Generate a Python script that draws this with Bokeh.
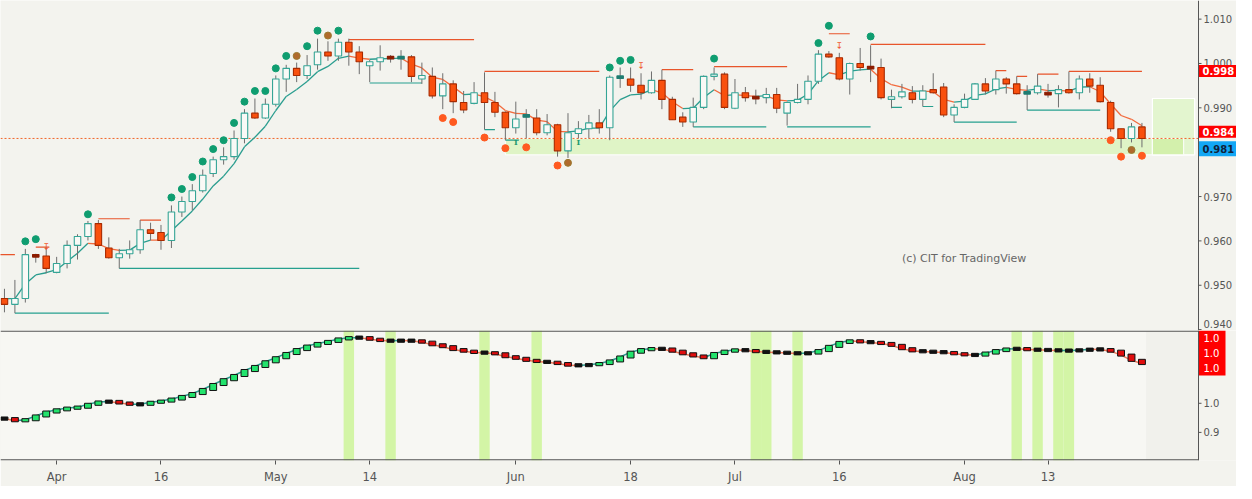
from bokeh.plotting import figure
from bokeh.layouts import column
from bokeh.models import Range1d, FixedTicker, Span, BoxAnnotation
from bokeh.embed import file_html
from bokeh.resources import INLINE
from bokeh.core.properties import value

# ---------------- data (USD/CHF daily, 26 Mar - 24 Aug 2018) ----------------
opens = [0.9470,0.9457,0.9470,0.9569,0.9566,0.9529,0.9549,0.9590,0.9610,0.9639,
         0.9584,0.9562,0.9571,0.9580,0.9625,0.9619,0.9601,0.9665,0.9689,0.9713,
         0.9752,0.9783,0.9790,0.9831,0.9888,0.9877,0.9908,0.9965,0.9989,0.9973,
         0.9997,1.0026,1.0017,1.0048,1.0026,0.9995,1.0004,1.0014,1.0012,1.0015,
         0.9965,0.9971,0.9927,0.9954,0.9912,0.9910,0.9934,0.9912,0.9890,0.9855,
         0.9880,0.9877,0.9844,0.9862,0.9803,0.9842,0.9853,0.9866,0.9855,0.9968,
         0.9965,0.9951,0.9934,0.9962,0.9919,0.9879,0.9868,0.9901,0.9971,0.9976,
         0.9899,0.9934,0.9924,0.9923,0.9930,0.9888,0.9912,0.9919,0.9960,1.0021,
         1.0013,0.9965,1.0000,0.9991,0.9991,0.9919,0.9925,0.9934,0.9919,0.9941,
         0.9947,0.9884,0.9901,0.9919,0.9954,0.9941,0.9965,0.9954,0.9933,0.9934,
         0.9933,0.9932,0.9941,0.9934,0.9965,0.9951,0.9912,0.9853,0.9831,0.9857]
highs = [0.9492,0.9512,0.9582,0.9571,0.9586,0.9564,0.9601,0.9615,0.9645,0.9647,
         0.9608,0.9582,0.9601,0.9647,0.9641,0.9636,0.9680,0.9700,0.9728,0.9761,
         0.9790,0.9811,0.9849,0.9897,0.9921,0.9921,0.9973,0.9997,1.0002,1.0019,
         1.0056,1.0050,1.0056,1.0056,1.0039,1.0008,1.0041,1.0019,1.0030,1.0019,
         1.0002,0.9991,0.9978,0.9962,0.9938,0.9958,0.9980,0.9936,0.9892,0.9914,
         0.9897,0.9897,0.9886,0.9864,0.9888,0.9870,0.9884,0.9897,0.9973,0.9991,
         0.9991,0.9978,0.9982,0.9986,0.9925,0.9890,0.9923,0.9973,0.9991,0.9980,
         0.9965,0.9947,0.9941,0.9945,0.9945,0.9914,0.9954,0.9973,1.0030,1.0028,
         1.0024,1.0002,1.0035,1.0041,1.0011,0.9941,0.9954,0.9949,0.9951,0.9978,
         0.9956,0.9908,0.9932,0.9956,0.9967,0.9984,0.9969,0.9971,0.9951,0.9976,
         0.9954,0.9951,0.9982,0.9973,0.9978,0.9969,0.9916,0.9853,0.9866,0.9866]
lows = [0.9439,0.9437,0.9461,0.9551,0.9527,0.9527,0.9538,0.9558,0.9601,0.9582,
        0.9560,0.9538,0.9560,0.9571,0.9601,0.9580,0.9584,0.9654,0.9669,0.9709,
        0.9744,0.9772,0.9783,0.9820,0.9875,0.9875,0.9903,0.9936,0.9958,0.9965,
        0.9986,1.0006,1.0006,0.9995,0.9976,0.9958,0.9984,1.0002,0.9986,0.9958,
        0.9954,0.9921,0.9897,0.9888,0.9888,0.9908,0.9851,0.9879,0.9827,0.9842,
        0.9831,0.9838,0.9838,0.9790,0.9787,0.9831,0.9831,0.9842,0.9827,0.9945,
        0.9936,0.9919,0.9932,0.9897,0.9873,0.9857,0.9857,0.9897,0.9962,0.9897,
        0.9897,0.9914,0.9908,0.9910,0.9888,0.9860,0.9910,0.9908,0.9954,1.0013,
        0.9962,0.9930,0.9984,0.9958,0.9919,0.9899,0.9921,0.9910,0.9903,0.9932,
        0.9879,0.9868,0.9899,0.9919,0.9930,0.9930,0.9932,0.9930,0.9895,0.9930,
        0.9923,0.9901,0.9932,0.9919,0.9934,0.9912,0.9846,0.9809,0.9822,0.9811]
closes = [0.9457,0.9470,0.9569,0.9564,0.9538,0.9549,0.9590,0.9610,0.9639,0.9590,
          0.9562,0.9571,0.9580,0.9625,0.9617,0.9601,0.9665,0.9689,0.9713,0.9748,
          0.9783,0.9790,0.9831,0.9888,0.9877,0.9908,0.9965,0.9989,0.9973,0.9995,
          1.0026,1.0017,1.0048,1.0026,1.0004,1.0004,1.0013,1.0012,1.0014,0.9971,
          0.9973,0.9927,0.9954,0.9914,0.9895,0.9934,0.9912,0.9890,0.9855,0.9875,
          0.9884,0.9844,0.9862,0.9803,0.9844,0.9853,0.9866,0.9855,0.9969,0.9970,
          0.9951,0.9934,0.9962,0.9919,0.9873,0.9868,0.9901,0.9971,0.9976,0.9901,
          0.9934,0.9923,0.9922,0.9930,0.9899,0.9912,0.9919,0.9960,1.0021,1.0015,
          0.9965,1.0000,0.9991,0.9990,0.9923,0.9925,0.9936,0.9919,0.9938,0.9934,
          0.9884,0.9901,0.9919,0.9954,0.9938,0.9965,0.9954,0.9932,0.9935,0.9949,
          0.9931,0.9941,0.9934,0.9965,0.9949,0.9914,0.9853,0.9831,0.9857,0.9831]

# lower-pane oscillator
osc = [0.9495,0.9480,0.9487,0.9513,0.9540,0.9555,0.9567,0.9573,0.9593,0.9609,
       0.9613,0.9602,0.9593,0.9593,0.9607,0.9615,0.9629,0.9647,0.9667,0.9695,
       0.9729,0.9762,0.9791,0.9825,0.9853,0.9885,0.9913,0.9942,0.9969,0.9993,
       1.0011,1.0025,1.0042,1.0051,1.0051,1.0040,1.0031,1.0029,1.0031,1.0029,
       1.0020,1.0002,0.9989,0.9969,0.9958,0.9949,0.9947,0.9940,0.9920,0.9909,
       0.9895,0.9887,0.9882,0.9873,0.9862,0.9860,0.9865,0.9873,0.9891,0.9918,
       0.9951,0.9969,0.9975,0.9973,0.9958,0.9940,0.9925,0.9913,0.9942,0.9958,
       0.9967,0.9962,0.9955,0.9951,0.9949,0.9945,0.9942,0.9945,0.9962,0.9991,
       1.0018,1.0029,1.0022,1.0018,1.0011,0.9998,0.9975,0.9960,0.9955,0.9953,
       0.9949,0.9940,0.9933,0.9931,0.9945,0.9962,0.9973,0.9975,0.9969,0.9967,
       0.9965,0.9962,0.9962,0.9965,0.9971,0.9969,0.9958,0.9931,0.9895,0.9873]
osc_bands = [33, 37, 46, 51, 72, 73, 76, 97, 99, 101, 102]

# signal dots
up_idx = [2,3,8,16,17,18,19,20,21,22,23,24,25,26,27,29,30,32,58,59,60,68,78,79,83]
up_val = [0.9599,0.9604,0.9660,0.9698,0.9717,0.9744,0.9779,0.9807,0.9827,0.9866,
          0.9914,0.9938,0.9938,0.9989,1.0017,1.0039,1.0074,1.0074,
          0.9991,1.0006,1.0008,1.0011,1.0046,1.0085,1.0061]
dn_idx = [42,43,46,48,50,53,106,107,109]
dn_val = [0.9877,0.9868,0.9833,0.9809,0.9811,0.9770,0.9827,0.9790,0.9792]
mix_idx = [28,31,54,108]
mix_val = [1.0017,1.0063,0.9776,0.9805]
arrow_idx = [4,61,80]
arrow_val = [0.9586,0.9995,1.0039]
mark_idx = [49,55]
mark_val = [0.9822,0.9822]

# resistance / support levels
res_start = [-1, 3, 9, 13, 33, 46, 63, 68, 79, 83, 95, 97, 99, 102]
res_end   = [1, 4.3, 12, 15, 45, 57, 66, 75, 81, 94, 96, 98, 101, 109]
res_level = [0.9569,0.9586,0.9650,0.9647,1.0054,0.9982,0.9986,0.9993,1.0067,1.0043,0.9984,0.9971,0.9976,0.9982]
sup_start = [1, 11, 35, 46, 48, 66, 75, 85, 88, 91, 98]
sup_end   = [10, 34, 40, 47, 49.3, 73, 83, 86, 89, 97, 105]
sup_level = [0.9437,0.9538,0.9956,0.9851,0.9827,0.9857,0.9857,0.9901,0.9903,0.9868,0.9895]

# demand zone and projection box
zone_start, zone_top, zone_bottom = 48, 0.9831, 0.9794
proj_start, proj_end, proj_top, proj_inner_end = 110, 114.05, 0.9921, 113.0

# axes
date_ticks = [5, 15, 26, 35, 49, 60, 70, 80, 92, 100]
date_labels = ["Apr", "16", "May", "14", "Jun", "18", "Jul", "16", "Aug", "13"]
price_ticks = [0.94, 0.95, 0.96, 0.97, 0.98, 0.99, 1.00, 1.01]
price_labels = ["0.940", "0.950", "0.960", "0.970", "0.980", "0.990", "1.000", "1.010"]
osc_ticks = [0.94, 0.96]
osc_labels = ["0.9", "1.0"]
badge_text = ["0.998", "0.984", "0.981"]
badge_val = [0.9983, 0.9846, 0.9808]
badge_fill = ["#ff0000", "#ff0000", "#12a7f5"]
badge_color = ["#ffffff", "#ffffff", "#10233a"]
osc_badge_text = ["1.0", "1.0", "1.0"]

# ---------------- styling ----------------
BG = "#f3f3ee"
BG2 = "#f7f7f3"
TEAL = "#2a9d8f"
ORANGE = "#f9500e"
DARKRED = "#a82a00"
AX = "#555555"
FONT = "DejaVu Sans"
n = len(closes)
idx = list(range(n))

FW = 1236                      # frame width (price-scale strip drawn inside)
X0 = -0.38
AXIS_X = 114.42                # price-scale line position (bar units)
PXB = 1198 / (AXIS_X - X0)     # pixels per bar
X_END = X0 + FW / PXB
XR = Range1d(X0, X_END)
TOP_H, BOT_H = 330, 130
YR1 = Range1d(0.9398, 1.0142)
YR2 = Range1d(0.9207, 1.0100)
ppu1 = TOP_H / (YR1.end - YR1.start)
ppu2 = BOT_H / (YR2.end - YR2.start)

def base_fig(h, yr, **kw):
    f = figure(frame_width=FW, frame_height=h, x_range=XR, y_range=yr,
               output_backend="svg", toolbar_location=None, y_axis_location=None,
               min_border_left=0, min_border_top=0, min_border_bottom=0, min_border_right=0,
               background_fill_color=BG, border_fill_color=BG, outline_line_color=None, **kw)
    f.grid.visible = False
    return f

def price_scale(f, ticks, labels, ppu, lift_first=False):
    f.add_layout(Span(location=AXIS_X, dimension="height", line_color=AX, line_width=1))
    f.segment(x0=[AXIS_X] * len(ticks), y0=ticks, x1=[AXIS_X + 3 / PXB] * len(ticks), y1=ticks,
              line_color=AX, line_width=1)
    ys = list(ticks)
    if lift_first:
        ys[0] = max(ys[0], f.y_range.start + 7 / ppu)
    f.text(x=[AXIS_X + 5 / PXB] * len(ticks), y=ys, text=labels, text_color=AX,
           text_font=value(FONT), text_font_size="10px", text_align="left", text_baseline="middle")

# ---------------- upper pane ----------------
p = base_fig(TOP_H, YR1, x_axis_location=None)

p.quad(left=[zone_start], right=[proj_end], top=[zone_top], bottom=[zone_bottom],
       fill_color="#dff4c6", line_color="#ffffff", line_width=1)
p.quad(left=[proj_start], right=[proj_end], top=[proj_top], bottom=[zone_bottom],
       fill_color="#e3f5cf", line_color="#ffffff", line_width=1.2)
p.quad(left=[proj_start], right=[proj_inner_end], top=[zone_top], bottom=[zone_bottom],
       fill_color="#d3f0ac", line_color="#ffffff", line_width=1)

p.segment(x0=[X0], y0=[closes[-1]], x1=[AXIS_X], y1=[closes[-1]], line_color="#f0652a",
          line_dash="2 2", line_width=1)

p.segment(x0=res_start, y0=res_level, x1=res_end, y1=res_level, line_color="#e8552b", line_width=1.2)
p.segment(x0=sup_start, y0=sup_level, x1=sup_end, y1=sup_level, line_color="#26a08f", line_width=1.2)

# moving average of closes
ema = [opens[0]]
k = 2 / (5 + 1)
for c in closes[1:]:
    ema.append(ema[-1] + k * (c - ema[-1]))
ma_col = [TEAL if ema[i] >= ema[i - 1] else "#f26b3e" for i in range(1, n)]
p.segment(x0=idx[:-1], y0=ema[:-1], x1=idx[1:], y1=ema[1:], line_color=ma_col, line_width=1.3)

# candles
tops, bots, fills, lines = [], [], [], []
for o, c in zip(opens, closes):
    t, b = max(o, c), min(o, c)
    if t - b < 0.0005:
        m = (t + b) / 2
        t, b = m + 0.0003, m - 0.0003
        col = "#1f7d72" if c >= o else "#8c1c00"
        fills.append(col); lines.append(col)
    elif c > o:
        fills.append("#f9f9f6"); lines.append("#35a596")
    else:
        fills.append(ORANGE); lines.append(DARKRED)
    tops.append(t); bots.append(b)
p.segment(x0=idx, y0=highs, x1=idx, y1=lows, line_color="#6e6e6e", line_width=1)
p.vbar(x=idx, width=0.62, top=tops, bottom=bots, fill_color=fills, line_color=lines, line_width=1.1)

# signals
p.scatter(x=up_idx, y=up_val, size=7, fill_color="#0f9d70", line_color="#0f9d70")
p.scatter(x=dn_idx, y=dn_val, size=7, fill_color="#ff5a20", line_color="#ff5a20")
p.scatter(x=mix_idx, y=mix_val, size=7, fill_color="#b06a2c", line_color="#9a7a30")
p.text(x=arrow_idx, y=arrow_val, text=["\u21a7"] * len(arrow_idx), text_color="#f0552a",
       text_font=value(FONT), text_font_size="9px", text_align="center", text_baseline="middle")
p.text(x=mark_idx, y=mark_val, text=["I"] * len(mark_idx), text_color="#1f9a70",
       text_font=value("DejaVu Serif"), text_font_size="8px", text_align="center",
       text_baseline="middle", text_font_style="bold")

p.text(x=[86.0], y=[0.9560], text=["(c) CIT for TradingView"], text_color="#666666",
       text_font=value(FONT), text_font_size="11px", text_align="left", text_baseline="middle")

price_scale(p, price_ticks, price_labels, ppu1, lift_first=True)

bh = [12 / ppu1, 12 / ppu1, 15 / ppu1]
p.quad(left=[AXIS_X] * 3, right=[X_END] * 3, top=[v + h / 2 for v, h in zip(badge_val, bh)],
       bottom=[v - h / 2 for v, h in zip(badge_val, bh)], fill_color=badge_fill, line_color=None)
p.text(x=[AXIS_X + 4 / PXB] * 3, y=badge_val, text=badge_text, text_color=badge_color,
       text_font=value(FONT), text_font_size="10px", text_font_style="bold",
       text_align="left", text_baseline="middle")

# ---------------- lower pane ----------------
q = base_fig(BOT_H, YR2)
q.xaxis.ticker = FixedTicker(ticks=date_ticks)
q.xaxis.major_label_overrides = dict(zip(date_ticks, date_labels))
q.xaxis.axis_line_color = None
q.xaxis.major_tick_line_color = AX
q.xaxis.minor_tick_line_color = None
q.xaxis.major_tick_in = 0
q.xaxis.major_tick_out = 4
q.xaxis.major_label_text_color = AX
q.xaxis.major_label_text_font = FONT
q.xaxis.major_label_text_font_size = "11.5px"
q.xaxis.major_label_standoff = 5

q.add_layout(BoxAnnotation(left=X0 - 1, right=AXIS_X, fill_color="#f1f1ec", fill_alpha=1,
                           line_color=None, level="underlay"))
q.add_layout(BoxAnnotation(left=X0 - 1, right=n - 0.6, fill_color=BG2, fill_alpha=1,
                           line_color=None, level="underlay"))
q.vbar(x=osc_bands, width=1.0, top=1.05, bottom=0.90, fill_color="#d3f5a6", line_color=None)

osc_col = [TEAL if osc[i] >= osc[i - 1] else "#f2785a" for i in range(1, n)]
q.segment(x0=idx[:-1], y0=osc[:-1], x1=idx[1:], y1=osc[1:], line_color=osc_col, line_width=1.5)

st, sb, sf = [], [], []
for i in range(n):
    prev = osc[i - 1] if i > 0 else osc[i]
    d = osc[i] - prev
    t = max(prev, osc[i]) + 0.0007
    b = min(prev, osc[i]) - 0.0007
    if t - b < 0.0022:
        m = (t + b) / 2
        t, b = m + 0.0011, m - 0.0011
    st.append(t); sb.append(b)
    sf.append("#22e36c" if d > 0.0006 else ("#e00d0d" if d < -0.0006 else "#111111"))
q.vbar(x=idx, width=0.66, top=st, bottom=sb, fill_color=sf, line_color="#111111", line_width=1)

# pane borders
q.segment(x0=[X0, X0], y0=[YR2.end - 0.6 / ppu2, YR2.start + 0.6 / ppu2],
          x1=[AXIS_X, AXIS_X], y1=[YR2.end - 0.6 / ppu2, YR2.start + 0.6 / ppu2],
          line_color=AX, line_width=1.3)
price_scale(q, osc_ticks, osc_labels, ppu2)

obh = 15 / ppu2
oc = [YR2.end - obh * (i + 0.5) for i in range(3)]
q.quad(left=[AXIS_X], right=[AXIS_X + 27 / PXB], top=[YR2.end], bottom=[YR2.end - 3 * obh],
       fill_color="#ff0000", line_color=None)
q.text(x=[AXIS_X + 5 / PXB] * 3, y=oc, text=osc_badge_text, text_color="#ffffff",
       text_font=value(FONT), text_font_size="10px", text_align="left", text_baseline="middle")

layout = column(p, q, spacing=0)
open("out.html", "w").write(file_html(layout, INLINE))
